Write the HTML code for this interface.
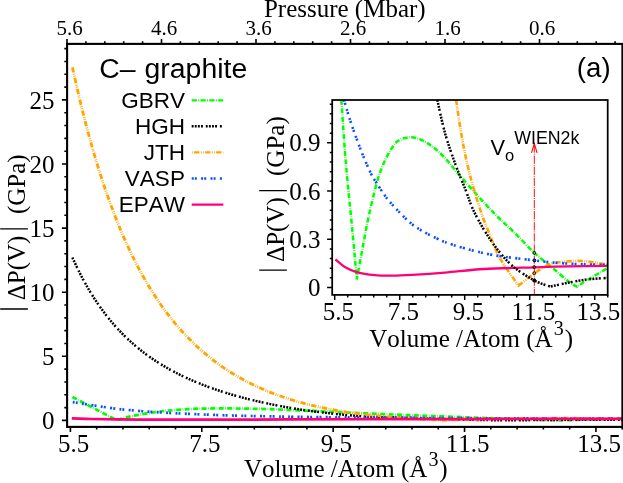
<!DOCTYPE html>
<html><head><meta charset="utf-8"><title>chart</title>
<style>html,body{margin:0;padding:0;background:#fff}body{width:623px;height:483px;overflow:hidden;font-family:"Liberation Sans",sans-serif}</style>
</head><body>
<svg width="623" height="483" viewBox="0 0 623 483" style="display:block;will-change:transform;font-kerning:none">
<rect x="0" y="0" width="623" height="483" fill="#fff"/>
<defs><clipPath id="cm"><rect x="67.10" y="43.90" width="555.30" height="383.00"/></clipPath>
<clipPath id="ci"><rect x="332.20" y="100.00" width="275.50" height="194.90"/></clipPath></defs>
<g clip-path="url(#cm)">
<path d="M72.40 397.00L116.70 420.20C118.28 419.73 122.52 418.28 126.19 417.38C129.86 416.48 133.90 415.68 138.72 414.80C143.53 413.93 150.27 412.81 155.09 412.12C159.91 411.43 162.94 411.11 167.62 410.67C172.30 410.22 178.00 409.78 183.18 409.45C188.37 409.13 192.18 408.88 198.75 408.70C205.32 408.53 214.82 408.43 222.60 408.42C230.38 408.40 237.72 408.49 245.44 408.62C253.15 408.75 261.07 408.96 268.88 409.20C276.70 409.43 284.08 409.69 292.33 410.03C300.58 410.37 307.39 410.75 318.41 411.25C329.42 411.75 345.46 412.48 358.43 413.04C371.39 413.60 383.93 414.14 396.22 414.63C408.52 415.12 419.23 415.47 432.20 415.98C445.17 416.48 461.10 417.16 474.04 417.63C486.98 418.11 498.43 418.43 509.82 418.81C521.20 419.18 533.97 419.64 542.36 419.90C550.75 420.15 557.18 420.27 560.14 420.34C563.65 420.25 570.89 420.05 581.17 419.80C591.44 419.55 615.02 419.01 621.79 418.85" fill="none" stroke="#00ff00" stroke-width="2.70" stroke-dasharray="5.0 1.45 0.6 1.45"/>
<path d="M72.40 257.56C73.57 260.02 77.07 267.66 79.40 272.30C81.73 276.93 84.07 281.25 86.40 285.38C88.73 289.50 91.07 293.35 93.40 297.03C95.73 300.70 98.07 304.14 100.40 307.44C102.73 310.73 105.07 313.81 107.40 316.77C109.73 319.73 112.07 322.50 114.40 325.17C116.73 327.83 119.07 330.34 121.40 332.74C123.73 335.15 126.07 337.42 128.40 339.60C130.73 341.78 133.07 343.85 135.40 345.83C137.73 347.81 140.07 349.69 142.40 351.50C144.73 353.31 147.07 355.03 149.40 356.68C151.73 358.33 154.07 359.91 156.40 361.42C158.73 362.94 161.07 364.39 163.40 365.78C165.73 367.17 168.07 368.50 170.40 369.79C172.73 371.08 175.07 372.30 177.40 373.49C179.73 374.68 182.07 375.82 184.40 376.92C186.73 378.02 189.07 379.07 191.40 380.09C193.73 381.11 196.07 382.09 198.40 383.04C200.73 383.99 203.07 384.90 205.40 385.79C207.73 386.67 210.07 387.52 212.40 388.34C214.73 389.17 217.07 389.96 219.40 390.73C221.73 391.50 224.07 392.25 226.40 392.97C228.73 393.69 231.07 394.38 233.40 395.06C235.73 395.73 238.07 396.38 240.40 397.01C242.73 397.65 245.07 398.26 247.40 398.85C249.73 399.44 252.07 400.01 254.40 400.57C256.73 401.12 259.07 401.66 261.40 402.18C263.73 402.70 266.07 403.20 268.40 403.69C270.73 404.18 273.07 404.65 275.40 405.10C277.73 405.56 280.07 406.00 282.40 406.43C284.73 406.85 287.07 407.27 289.40 407.67C291.73 408.06 294.07 408.45 296.40 408.82C298.73 409.19 301.07 409.55 303.40 409.90C305.73 410.25 308.07 410.58 310.40 410.90C312.73 411.23 315.07 411.54 317.40 411.84C319.73 412.14 322.07 412.42 324.40 412.70C326.73 412.98 329.07 413.24 331.40 413.50C333.73 413.76 336.07 414.00 338.40 414.24C340.73 414.47 343.07 414.70 345.40 414.92C347.73 415.13 350.07 415.34 352.40 415.54C354.73 415.74 357.07 415.92 359.40 416.11C361.73 416.29 364.07 416.46 366.40 416.62C368.73 416.79 367.72 416.96 373.40 417.09C379.08 417.22 390.67 417.15 400.47 417.43C410.27 417.71 419.94 418.36 432.20 418.77C444.46 419.17 461.71 419.58 474.04 419.84C486.37 420.10 500.82 420.25 506.18 420.33C512.21 420.28 529.86 420.11 542.36 420.02C554.86 419.92 567.93 419.83 581.17 419.76C594.40 419.70 615.02 419.66 621.79 419.63" fill="none" stroke="#000000" stroke-width="2.50" stroke-dasharray="1.9 1.2 1.9 1.2 1.9 1.2 1.9 2.9"/>
<path d="M72.45 67.37C73.62 72.53 77.12 88.47 79.45 98.29C81.78 108.11 84.12 117.39 86.45 126.28C88.78 135.17 91.12 143.58 93.45 151.65C95.78 159.71 98.12 167.34 100.45 174.66C102.78 181.98 105.12 188.91 107.45 195.57C109.78 202.22 112.12 208.53 114.45 214.58C116.78 220.64 119.12 226.38 121.45 231.89C123.78 237.41 126.12 242.65 128.45 247.68C130.78 252.71 133.12 257.49 135.45 262.08C137.78 266.67 140.12 271.04 142.45 275.24C144.78 279.44 147.12 283.44 149.45 287.28C151.78 291.12 154.12 294.78 156.45 298.30C158.78 301.82 161.12 305.18 163.45 308.41C165.78 311.63 168.12 314.71 170.45 317.68C172.78 320.64 175.12 323.47 177.45 326.19C179.78 328.91 182.12 331.51 184.45 334.02C186.78 336.52 189.12 338.91 191.45 341.22C193.78 343.52 196.12 345.72 198.45 347.85C200.78 349.97 203.12 352.00 205.45 353.96C207.78 355.91 210.12 357.78 212.45 359.59C214.78 361.39 217.12 363.12 219.45 364.78C221.78 366.45 224.12 368.04 226.45 369.58C228.78 371.11 231.12 372.58 233.45 374.00C235.78 375.42 238.12 376.78 240.45 378.09C242.78 379.40 245.12 380.65 247.45 381.86C249.78 383.07 252.12 384.23 254.45 385.34C256.78 386.46 259.12 387.53 261.45 388.56C263.78 389.59 266.12 390.57 268.45 391.52C270.78 392.47 273.12 393.38 275.45 394.26C277.78 395.13 280.12 395.97 282.45 396.78C284.78 397.59 287.12 398.36 289.45 399.10C291.78 399.84 294.12 400.55 296.45 401.23C298.78 401.92 301.12 402.57 303.45 403.19C305.78 403.82 308.12 404.42 310.45 404.99C312.78 405.57 315.12 406.11 317.45 406.64C319.78 407.17 322.12 407.67 324.45 408.15C326.78 408.63 329.12 409.08 331.45 409.52C333.78 409.96 336.12 410.37 338.45 410.77C340.78 411.17 343.12 411.54 345.45 411.90C347.78 412.26 350.12 412.60 352.45 412.93C354.78 413.26 357.12 413.56 359.45 413.86C361.78 414.15 364.12 414.43 366.45 414.69C368.78 414.95 367.14 414.88 373.45 415.44C379.76 416.00 392.86 417.25 404.31 418.06C415.75 418.86 435.80 419.89 442.10 420.26C447.43 420.09 463.83 419.55 474.04 419.27C484.25 418.99 494.15 418.72 503.35 418.57C512.54 418.42 519.25 418.42 529.22 418.37C539.19 418.32 552.63 418.28 563.18 418.28C573.72 418.28 582.71 418.33 592.48 418.38C602.25 418.43 616.91 418.55 621.79 418.58" fill="none" stroke="#ffa500" stroke-width="2.85" stroke-dasharray="5.3 1.5 0.8 1.2 0.8 1.4"/>
<path d="M72.80 402.10C79.23 403.10 102.10 406.79 111.40 408.10C120.70 409.41 123.15 409.43 128.61 409.97C134.07 410.51 139.76 411.00 144.17 411.35C148.59 411.70 149.73 411.74 155.09 412.07C160.45 412.40 168.60 412.92 176.31 413.31C184.03 413.70 192.99 414.06 201.38 414.40C209.76 414.74 218.25 415.09 226.64 415.35C235.03 415.62 243.35 415.80 251.70 415.99C260.06 416.18 269.83 416.35 276.77 416.49C283.71 416.62 284.01 416.65 293.34 416.78C302.67 416.91 316.25 417.10 332.76 417.27C349.26 417.45 368.83 417.66 392.38 417.82C415.93 417.99 451.77 418.13 474.04 418.24C496.31 418.34 509.21 418.40 525.99 418.45C542.76 418.51 558.73 418.53 574.70 418.55C590.66 418.57 613.94 418.59 621.79 418.60" fill="none" stroke="#0a50ff" stroke-width="2.70" stroke-dasharray="2.0 1.1 2.0 4.3"/>
<path d="M71.81 418.42C75.02 418.52 83.64 418.84 91.02 419.02C98.39 419.19 106.04 419.34 116.08 419.45C126.12 419.56 139.53 419.63 151.25 419.67C162.97 419.71 173.85 419.71 186.42 419.71C198.98 419.71 208.82 419.69 226.64 419.65C244.46 419.60 269.02 419.54 293.34 419.46C317.66 419.38 342.46 419.25 372.57 419.18C402.69 419.10 445.74 419.07 474.04 419.04C502.34 419.00 517.73 418.99 542.36 418.97C566.98 418.95 608.55 418.93 621.79 418.92" fill="none" stroke="#ff0078" stroke-width="2.70"/>
</g>
<g stroke="#000" fill="none">
<rect x="67.10" y="43.90" width="555.30" height="383.00" stroke-width="2.1"/>
<path d="M70.40 426.90 v5.00M96.68 426.90 v2.60M122.95 426.90 v2.60M149.23 426.90 v2.60M175.50 426.90 v2.60M201.78 426.90 v5.00M228.06 426.90 v2.60M254.33 426.90 v2.60M280.61 426.90 v2.60M306.88 426.90 v2.60M333.16 426.90 v5.00M359.44 426.90 v2.60M385.71 426.90 v2.60M411.99 426.90 v2.60M438.26 426.90 v2.60M464.54 426.90 v5.00M490.82 426.90 v2.60M517.09 426.90 v2.60M543.37 426.90 v2.60M569.64 426.90 v2.60M595.92 426.90 v5.00M622.20 426.90 v2.60M67.10 420.40 h-5.20M67.10 407.58 h-2.80M67.10 394.76 h-2.80M67.10 381.94 h-2.80M67.10 369.12 h-2.80M67.10 356.30 h-5.20M67.10 343.48 h-2.80M67.10 330.66 h-2.80M67.10 317.84 h-2.80M67.10 305.02 h-2.80M67.10 292.20 h-5.20M67.10 279.38 h-2.80M67.10 266.56 h-2.80M67.10 253.74 h-2.80M67.10 240.92 h-2.80M67.10 228.10 h-5.20M67.10 215.28 h-2.80M67.10 202.46 h-2.80M67.10 189.64 h-2.80M67.10 176.82 h-2.80M67.10 164.00 h-5.20M67.10 151.18 h-2.80M67.10 138.36 h-2.80M67.10 125.54 h-2.80M67.10 112.72 h-2.80M67.10 99.90 h-5.20M67.10 87.08 h-2.80M67.10 74.26 h-2.80M67.10 61.44 h-2.80M67.10 48.62 h-2.80M67.00 43.90 v-5.00M85.90 43.90 v-2.60M104.80 43.90 v-2.60M123.70 43.90 v-2.60M142.60 43.90 v-2.60M161.50 43.90 v-5.00M180.40 43.90 v-2.60M199.30 43.90 v-2.60M218.20 43.90 v-2.60M237.10 43.90 v-2.60M256.00 43.90 v-5.00M274.90 43.90 v-2.60M293.80 43.90 v-2.60M312.70 43.90 v-2.60M331.60 43.90 v-2.60M350.50 43.90 v-5.00M369.40 43.90 v-2.60M388.30 43.90 v-2.60M407.20 43.90 v-2.60M426.10 43.90 v-2.60M445.00 43.90 v-5.00M463.90 43.90 v-2.60M482.80 43.90 v-2.60M501.70 43.90 v-2.60M520.60 43.90 v-2.60M539.50 43.90 v-5.00M558.40 43.90 v-2.60M577.30 43.90 v-2.60M596.20 43.90 v-2.60M615.10 43.90 v-2.60" stroke-width="1.6"/>
</g>
<g font-family="Liberation Serif, serif" font-size="25.0" fill="#000">
<text x="73.60" y="451.7" text-anchor="middle">5.5</text>
<text x="204.98" y="451.7" text-anchor="middle">7.5</text>
<text x="336.36" y="451.7" text-anchor="middle">9.5</text>
<text x="467.74" y="451.7" text-anchor="middle">11.5</text>
<text x="599.12" y="451.7" text-anchor="middle">13.5</text>
<text x="54.6" y="429.00" text-anchor="end">0</text>
<text x="54.6" y="364.90" text-anchor="end">5</text>
<text x="54.6" y="300.80" text-anchor="end">10</text>
<text x="54.6" y="236.70" text-anchor="end">15</text>
<text x="54.6" y="172.60" text-anchor="end">20</text>
<text x="54.6" y="108.50" text-anchor="end">25</text>
</g>
<g font-family="Liberation Serif, serif" font-size="21" fill="#000">
<text x="69.60" y="34.9" text-anchor="middle">5.6</text>
<text x="164.10" y="34.9" text-anchor="middle">4.6</text>
<text x="258.60" y="34.9" text-anchor="middle">3.6</text>
<text x="353.10" y="34.9" text-anchor="middle">2.6</text>
<text x="447.60" y="34.9" text-anchor="middle">1.6</text>
<text x="542.10" y="34.9" text-anchor="middle">0.6</text>
<text x="344.8" y="16.8" text-anchor="middle" font-size="25">Pressure (Mbar)</text>
</g>
<text x="244.00" y="477.30" font-family="Liberation Serif, serif" font-size="25.0" fill="#000" xml:space="preserve">Volume /Atom (&#197;<tspan dy="-11.8" dx="1.2" font-size="20">3</tspan><tspan dy="11.8" dx="0.8">)</tspan></text>
<g transform="translate(25.3,0) rotate(-90)" font-family="Liberation Serif, serif" font-size="25.0" fill="#000">
<text x="-300.3" y="0">&#916;P(V)</text>
<text x="-214.1" y="0">(GPa)</text>
</g>
<path d="M0.2 228.8H27.9M0.2 309H27.9" stroke="#000" stroke-width="1.3" fill="none"/>
<g font-family="Liberation Sans, sans-serif" fill="#000">
<text x="99.2" y="78.0" font-size="28.4">C&#8211; <tspan dx="1.2">graphite</tspan></text>
<text x="610.6" y="77.3" font-size="27.6" text-anchor="end">(a)</text>
<text x="184.9" y="107.60" font-size="22.5" text-anchor="end">GBRV</text>
<text x="184.9" y="133.60" font-size="22.5" text-anchor="end">HGH</text>
<text x="184.9" y="159.90" font-size="22.5" text-anchor="end">JTH</text>
<text x="184.9" y="186.20" font-size="22.5" text-anchor="end">VASP</text>
<text x="184.9" y="212.30" font-size="22.5" text-anchor="end">EPAW</text>
<path d="M191.7 100.40H223.3" fill="none" stroke="#00ff00" stroke-width="2.40" stroke-dasharray="5.2 1.35 0.9 1.35"/>
<path d="M191.7 126.20H222.6" fill="none" stroke="#000000" stroke-width="2.40" stroke-dasharray="1.9 1.2 1.9 1.2 1.9 1.2 1.9 2.9"/>
<path d="M191.7 152.40H223.3" fill="none" stroke="#ffa500" stroke-width="2.40" stroke-dasharray="5.3 1.5 0.8 1.2 0.8 1.4" stroke-dashoffset="8.6"/>
<path d="M191.7 178.50H222.6" fill="none" stroke="#0a50ff" stroke-width="2.40" stroke-dasharray="2.0 1.1 2.0 4.3"/>
<path d="M191.7 204.60H223.3" fill="none" stroke="#ff0078" stroke-width="2.40"/>
</g>
<rect x="332.20" y="100.00" width="275.50" height="194.90" fill="#fff"/>
<g clip-path="url(#ci)">
<path d="M341.40 100.00C341.88 107.20 343.30 129.87 344.30 143.20C345.30 156.53 346.07 165.58 347.40 180.00C348.73 194.42 350.73 213.13 352.30 229.70C353.87 246.27 356.05 271.12 356.80 279.40C357.72 274.43 360.35 259.95 362.30 249.60C364.25 239.25 366.12 228.30 368.50 217.30C370.88 206.30 374.22 192.25 376.60 183.60C378.98 174.95 380.48 170.97 382.80 165.40C385.12 159.83 387.93 154.30 390.50 150.20C393.07 146.10 394.95 142.97 398.20 140.80C401.45 138.63 406.15 137.37 410.00 137.20C413.85 137.03 417.48 138.17 421.30 139.80C425.12 141.43 429.03 144.07 432.90 147.00C436.77 149.93 440.42 153.12 444.50 157.40C448.58 161.68 451.95 166.40 457.40 172.70C462.85 179.00 470.78 188.13 477.20 195.20C483.62 202.27 489.82 208.97 495.90 215.10C501.98 221.23 507.28 225.72 513.70 232.00C520.12 238.28 528.00 246.88 534.40 252.80C540.80 258.72 546.47 262.77 552.10 267.50C557.73 272.23 564.05 277.98 568.20 281.20C572.35 284.42 575.53 285.87 577.00 286.80C578.73 285.67 582.32 283.12 587.40 280.00C592.48 276.88 604.15 270.08 607.50 268.10" fill="none" stroke="#00ff00" stroke-width="2.50" stroke-dasharray="5.0 1.45 0.6 1.45"/>
<path d="M456.10 100.00C457.13 106.62 460.02 127.28 462.30 139.70C464.58 152.12 466.82 162.85 469.80 174.50C472.78 186.15 477.15 200.25 480.20 209.60C483.25 218.95 484.82 222.52 488.10 230.60C491.38 238.68 494.82 248.92 499.90 258.10C504.98 267.28 515.48 281.10 518.60 285.70C521.23 283.63 529.35 276.82 534.40 273.30C539.45 269.78 544.35 266.48 548.90 264.60C553.45 262.72 556.77 262.62 561.70 262.00C566.63 261.38 573.28 260.87 578.50 260.90C583.72 260.93 588.17 261.57 593.00 262.20C597.83 262.83 605.08 264.28 607.50 264.70" fill="none" stroke="#ffa500" stroke-width="2.60" stroke-dasharray="5.3 1.5 0.8 1.2 0.8 1.4"/>
<path d="M344.00 100.00C345.00 103.33 347.87 113.45 350.00 120.00C352.13 126.55 354.55 133.18 356.80 139.30C359.05 145.42 361.10 150.92 363.50 156.70C365.90 162.48 369.02 169.62 371.20 174.00C373.38 178.38 373.95 178.90 376.60 183.00C379.25 187.10 383.28 193.72 387.10 198.60C390.92 203.48 395.35 208.03 399.50 212.30C403.65 216.57 407.85 220.88 412.00 224.20C416.15 227.52 420.27 229.83 424.40 232.20C428.53 234.57 433.37 236.75 436.80 238.40C440.23 240.05 440.38 240.45 445.00 242.10C449.62 243.75 456.33 246.12 464.50 248.30C472.67 250.48 482.35 253.18 494.00 255.20C505.65 257.22 523.38 259.08 534.40 260.40C545.42 261.72 551.80 262.45 560.10 263.10C568.40 263.75 576.30 264.00 584.20 264.30C592.10 264.60 603.62 264.80 607.50 264.90" fill="none" stroke="#0a50ff" stroke-width="2.60" stroke-dasharray="2.0 1.1 2.0 4.3"/>
<path d="M335.40 259.50C336.98 260.75 341.25 264.85 344.90 267.00C348.55 269.15 352.33 271.03 357.30 272.40C362.27 273.77 368.90 274.65 374.70 275.20C380.50 275.75 385.88 275.75 392.10 275.70C398.32 275.65 403.18 275.42 412.00 274.90C420.82 274.38 432.97 273.58 445.00 272.60C457.03 271.62 469.30 269.88 484.20 269.00C499.10 268.12 520.40 267.73 534.40 267.30C548.40 266.87 556.02 266.65 568.20 266.40C580.38 266.15 600.95 265.90 607.50 265.80" fill="none" stroke="#ff0078" stroke-width="2.30"/>
<path d="M437.30 100.00C438.60 105.57 442.07 122.63 445.10 133.40C448.13 144.17 452.12 155.27 455.50 164.60C458.88 173.93 462.47 181.90 465.40 189.40C468.33 196.90 469.92 202.73 473.10 209.60C476.28 216.47 480.35 223.83 484.50 230.60C488.65 237.37 493.13 244.13 498.00 250.20C502.87 256.27 507.63 261.95 513.70 267.00C519.77 272.05 528.30 277.23 534.40 280.50C540.50 283.77 547.65 285.58 550.30 286.60C553.28 285.95 562.02 283.88 568.20 282.70C574.38 281.52 580.85 280.30 587.40 279.50C593.95 278.70 604.15 278.17 607.50 277.90" fill="none" stroke="#000000" stroke-width="2.50" stroke-dasharray="1.9 1.2 1.9 1.2 1.9 1.2 1.9 2.9"/>
<path d="M534.3 144.5V294.8" stroke="#ff0000" stroke-width="0.95" stroke-dasharray="8.2 1.0 0.9 1.0" fill="none"/>
</g>
<path d="M531.5 152.8L534.3 143.6L537.1 152.8" stroke="#ff0000" stroke-width="1.1" fill="none"/>
<circle cx="534.3" cy="252.90" r="1.45" fill="#00ff00" stroke="#000" stroke-width="0.9"/>
<circle cx="534.3" cy="260.40" r="1.45" fill="#0a50ff" stroke="#000" stroke-width="0.9"/>
<circle cx="534.3" cy="267.10" r="1.45" fill="#ff0078" stroke="#000" stroke-width="0.9"/>
<circle cx="534.3" cy="273.20" r="1.45" fill="#ffa500" stroke="#000" stroke-width="0.9"/>
<circle cx="534.3" cy="280.4" r="2.0" fill="#000"/>
<g stroke="#000" fill="none">
<rect x="332.20" y="100.00" width="275.50" height="194.90" stroke-width="1.75"/>
<path d="M334.70 294.90 v5.00M347.70 294.90 v2.50M360.70 294.90 v2.50M373.70 294.90 v2.50M386.70 294.90 v2.50M399.70 294.90 v5.00M412.70 294.90 v2.50M425.70 294.90 v2.50M438.70 294.90 v2.50M451.70 294.90 v2.50M464.70 294.90 v5.00M477.70 294.90 v2.50M490.70 294.90 v2.50M503.70 294.90 v2.50M516.70 294.90 v2.50M529.70 294.90 v5.00M542.70 294.90 v2.50M555.70 294.90 v2.50M568.70 294.90 v2.50M581.70 294.90 v2.50M594.70 294.90 v5.00M607.70 294.90 v2.50M332.20 287.50 h-5.10M332.20 277.85 h-2.40M332.20 268.20 h-2.40M332.20 258.56 h-2.40M332.20 248.91 h-2.40M332.20 239.26 h-5.10M332.20 229.61 h-2.40M332.20 219.96 h-2.40M332.20 210.32 h-2.40M332.20 200.67 h-2.40M332.20 191.02 h-5.10M332.20 181.37 h-2.40M332.20 171.72 h-2.40M332.20 162.08 h-2.40M332.20 152.43 h-2.40M332.20 142.78 h-5.10M332.20 133.13 h-2.40M332.20 123.48 h-2.40M332.20 113.84 h-2.40M332.20 104.19 h-2.40" stroke-width="1.5"/>
</g>
<g font-family="Liberation Serif, serif" font-size="25.0" fill="#000">
<text x="338.30" y="319.6" text-anchor="middle">5.5</text>
<text x="403.30" y="319.6" text-anchor="middle">7.5</text>
<text x="468.30" y="319.6" text-anchor="middle">9.5</text>
<text x="533.30" y="319.6" text-anchor="middle">11.5</text>
<text x="598.30" y="319.6" text-anchor="middle">13.5</text>
<text x="320.4" y="296.10" text-anchor="end">0</text>
<text x="320.4" y="247.86" text-anchor="end">0.3</text>
<text x="320.4" y="199.62" text-anchor="end">0.6</text>
<text x="320.4" y="151.38" text-anchor="end">0.9</text>
</g>
<text x="369.30" y="346.50" font-family="Liberation Serif, serif" font-size="25.0" fill="#000" xml:space="preserve">Volume /Atom (&#197;<tspan dy="-11.8" dx="1.2" font-size="20">3</tspan><tspan dy="11.8" dx="0.8">)</tspan></text>
<g font-family="Liberation Sans, sans-serif" fill="#000">
<text x="490.6" y="154.7" font-size="21.8">V</text>
<text x="504.9" y="161.4" font-size="16.5">o</text>
<text x="514.2" y="143.6" font-size="17.8">WIEN2k</text>
</g>
<g transform="translate(284.3,0) rotate(-90)" font-family="Liberation Serif, serif" font-size="25.0" fill="#000">
<text x="-261.9" y="0">&#916;P(V)</text>
<text x="-176.0" y="0">(GPa)</text>
</g>
<path d="M259.2 190.7H286.9M259.2 270.1H286.9" stroke="#000" stroke-width="1.3" fill="none"/>
</svg>
</body></html>
